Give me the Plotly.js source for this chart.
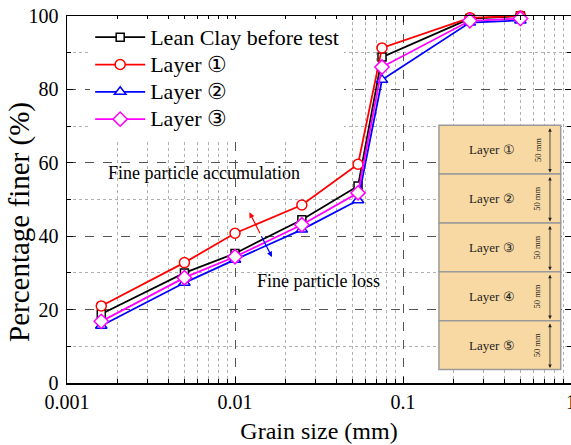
<!DOCTYPE html>
<html>
<head>
<meta charset="utf-8">
<script src="https://cdn.plot.ly/plotly-3.0.1.min.js"></script>
<style>
  html, body { margin: 0; padding: 0; background: #fff; }
  #chart { width: 571px; height: 445px; }
</style>
</head>
<body>
<div id="chart"></div>
<script>
// Grain size distribution (mm) and percentage finer for each sample
const grainSize = [0.0016, 0.005, 0.01, 0.025, 0.054, 0.075, 0.25, 0.5];
const leanClay = [18.8, 30.0, 35.3, 44.5, 53.7, 88.8, 99.3, 100];
const layer1 = [21.0, 32.8, 40.8, 48.5, 59.6, 91.3, 99.5, 100];
const layer2 = [15.6, 27.3, 33.6, 41.8, 49.8, 82.6, 98.2, 98.8];
const layer3 = [16.8, 28.7, 34.4, 43.1, 51.8, 86.1, 98.7, 99.3];

const seriesNames = ['Lean Clay before test', 'Layer \u2460', 'Layer \u2461', 'Layer \u2462'];
const seriesValues = [leanClay, layer1, layer2, layer3];
const seriesColors = ['#000000', '#ff0000', '#0000ff', '#ff00ff'];
const seriesSymbols = ['square', 'circle', 'triangle-up', 'diamond'];
const seriesSizes = [8, 10, 10, 11];

// Column sketch: five 50 mm layers
const columnLayers = ['Layer \u2460', 'Layer \u2461', 'Layer \u2462', 'Layer \u2463', 'Layer \u2464'];
const layerThickness = '50 mm';

const xTickVals = [0.001, 0.01, 0.1, 1];
const xTickText = ['0.001', '0.01', '0.1', '1'];

const serif = '"Liberation Serif", "Times New Roman", serif';

const traces = seriesNames.map((name, i) => ({
  type: 'scatter',
  mode: 'lines+markers',
  name: '<span style="font-size:22px">' + name + '</span>',
  x: grainSize,
  y: seriesValues[i],
  line: { color: seriesColors[i], width: 1.8 },
  marker: {
    symbol: seriesSymbols[i],
    size: seriesSizes[i],
    color: '#ffffff',
    line: { color: seriesColors[i], width: 1.5 }
  },
  cliponaxis: false
}));

// minor log ticks 2..9 within each decade
const minorVals = [];
for (let e = -3; e < 0; e++) {
  for (let d = 2; d <= 9; d++) minorVals.push(d * Math.pow(10, e));
}

// column sketch geometry (paper coordinates)
const colX0 = 0.738, colX1 = 0.9796, colTop = 0.7025, colBottom = 0.0368;
const layerH = (colTop - colBottom) / columnLayers.length;
const plotHeightPx = 445 - 16 - 62;

const shapes = [];
const annotations = [];

function note(opts) {
  return Object.assign({ xanchor: 'center', yanchor: 'middle', showarrow: false }, opts);
}

columnLayers.forEach((label, i) => {
  const yTop = colTop - i * layerH;
  const yBot = yTop - layerH;
  shapes.push({
    type: 'rect', xref: 'paper', yref: 'paper',
    x0: colX0, x1: colX1, y0: yBot, y1: yTop,
    fillcolor: '#f8d9a3', line: { color: '#9a9a9a', width: 1.5 }, layer: 'above'
  });
  annotations.push(note({
    xref: 'paper', yref: 'paper', x: 0.8427, y: (yTop + yBot) / 2,
    text: label,
    font: { family: serif, size: 13, color: '#222' }
  }));
  annotations.push(note({
    xref: 'paper', yref: 'paper', x: 0.9331, y: (yTop + yBot) / 2,
    text: layerThickness, textangle: -90,
    font: { family: serif, size: 8.5, color: '#222' }
  }));
  annotations.push({
    xref: 'paper', yref: 'paper', x: 0.9583, y: yBot + 0.004,
    ax: 0, ay: -(layerH - 0.008) * plotHeightPx,
    text: '', showarrow: true, arrowside: 'end+start',
    arrowhead: 2, arrowsize: 0.9, arrowwidth: 0.8, arrowcolor: '#222'
  });
});

// accumulation / loss indicators
annotations.push(
  note({
    xref: 'paper', yref: 'paper', x: 0.2712, y: 0.5728,
    text: 'Fine particle accumulation',
    font: { family: serif, size: 18, color: '#000' }
  }),
  note({
    xref: 'paper', yref: 'paper', x: 0.4994, y: 0.2774,
    text: 'Fine particle loss',
    font: { family: serif, size: 18, color: '#000' }
  }),
  {
    xref: 'x', yref: 'y', x: -1.914, y: 46.5,
    axref: 'x', ayref: 'y', ax: -1.847, ay: 40.4,
    text: '', showarrow: true, arrowhead: 2, arrowsize: 0.9,
    arrowwidth: 1.2, arrowcolor: '#ff0000'
  },
  {
    xref: 'x', yref: 'y', x: -1.780, y: 34.3,
    axref: 'x', ayref: 'y', ax: -1.847, ay: 40.4,
    text: '', showarrow: true, arrowhead: 2, arrowsize: 0.9,
    arrowwidth: 1.2, arrowcolor: '#0000ff'
  },
  note({
    xref: 'paper', yref: 'paper', x: -0.0933, y: 0.4387,
    text: 'Percentage finer (%)', textangle: -90,
    font: { family: serif, size: 29, color: '#000' }
  })
);

const layout = {
  width: 571,
  height: 445,
  margin: { l: 67, r: 0, t: 16, b: 62 },
  paper_bgcolor: '#ffffff',
  plot_bgcolor: '#ffffff',
  font: { family: serif, color: '#000' },
  showlegend: true,
  legend: {
    x: 0.046, y: 0.993, xanchor: 'left', yanchor: 'top',
    bgcolor: '#ffffff', borderwidth: 0,
    font: { family: serif, size: 18.7, color: '#000' },
    itemwidth: 50
  },
  xaxis: {
    type: 'log',
    range: [-3, 0],
    tickmode: 'array',
    tickvals: xTickVals,
    ticktext: xTickText,
    ticks: 'inside', ticklen: 6, tickcolor: '#000',
    ticklabeloverflow: 'allow',
    showline: true, linecolor: '#000', linewidth: 1.5, mirror: 'allticks',
    showgrid: true, gridcolor: '#555', griddash: 'dash', gridwidth: 1,
    zeroline: false,
    tickfont: { family: serif, size: 20, color: '#000' },
    title: { text: 'Grain size (mm)', font: { family: serif, size: 24, color: '#000' }, standoff: 10 },
    minor: {
      tickmode: 'array', tickvals: minorVals,
      ticks: 'inside', ticklen: 4, tickcolor: '#000',
      showgrid: true, gridcolor: '#b0b0b0', griddash: 'dot', gridwidth: 1
    }
  },
  yaxis: {
    range: [0, 100],
    dtick: 20,
    ticks: 'inside', ticklen: 6, tickcolor: '#000',
    ticklabelstandoff: 3,
    showline: true, linecolor: '#000', linewidth: 1.5, mirror: 'allticks',
    showgrid: true, gridcolor: '#555', griddash: 'dash', gridwidth: 1,
    zeroline: false,
    tickfont: { family: serif, size: 20, color: '#000' },
    minor: {
      dtick: 10,
      ticks: 'inside', ticklen: 4, tickcolor: '#000',
      showgrid: true, gridcolor: '#b0b0b0', griddash: 'dot', gridwidth: 1
    }
  },
  shapes: shapes,
  annotations: annotations
};

Plotly.newPlot('chart', traces, layout, { staticPlot: true, displayModeBar: false });
</script>
</body>
</html>
